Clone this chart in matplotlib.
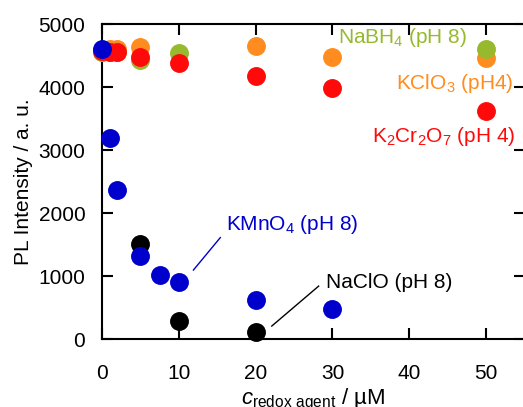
import matplotlib
matplotlib.use("Agg")
import matplotlib.pyplot as plt

plt.rcParams['font.family'] = ['Liberation Sans', 'DejaVu Sans']
plt.rcParams['mathtext.fontset'] = 'custom'
plt.rcParams['mathtext.rm'] = 'Liberation Sans'
plt.rcParams['mathtext.it'] = 'Liberation Sans:italic'
plt.rcParams['mathtext.bf'] = 'Liberation Sans:bold'

# data (concentration in uM, PL intensity in a.u.)
kclo3_x = [0, 1, 2, 5, 20, 30, 50]
kclo3_y = [4560, 4600, 4600, 4630, 4650, 4480, 4460]

nabh4_x = [0, 1, 2, 5, 10, 50]
nabh4_y = [4560, 4560, 4560, 4430, 4540, 4600]

k2cr2o7_x = [0, 1, 2, 5, 10, 20, 30, 50]
k2cr2o7_y = [4570, 4560, 4550, 4480, 4380, 4175, 3985, 3620]

naclo_x = [5, 10, 20]
naclo_y = [1505, 285, 110]

kmno4_x = [0, 1, 2, 5, 7.5, 10, 20, 30]
kmno4_y = [4610, 3190, 2365, 1315, 1020, 905, 620, 475]

green = '#96B92E'
orange = '#FF8C1E'
red = '#FF0A0A'
blue = '#0000CC'

fig = plt.figure(figsize=(5.23, 4.07), dpi=100)
# right spine sits just past the image edge, like in the reference
ax = fig.add_axes([0.195, 0.167, 0.808, 0.774])

ms = 185
ax.scatter(kclo3_x, kclo3_y, s=ms, color=orange, lw=0, zorder=3, clip_on=False)
ax.scatter(nabh4_x, nabh4_y, s=ms, color=green, lw=0, zorder=3, clip_on=False)
ax.scatter(k2cr2o7_x, k2cr2o7_y, s=ms, color=red, lw=0, zorder=3, clip_on=False)
ax.scatter(naclo_x, naclo_y, s=ms, color='black', lw=0, zorder=3, clip_on=False)
ax.scatter(kmno4_x, kmno4_y, s=ms, color=blue, lw=0, zorder=3, clip_on=False)

fs = 15
ax.text(30.7, 4780, 'NaBH$_4$ (pH 8)', color=green, fontsize=fs, va='center')
ax.text(53.6, 4060, 'KClO$_3$ (pH4)', color=orange, fontsize=fs, va='center', ha='right')
ax.text(53.8, 3220, 'K$_2$Cr$_2$O$_7$ (pH 4)', color=red, fontsize=fs, va='center', ha='right')
ax.text(16.2, 1810, 'KMnO$_4$ (pH 8)', color=blue, fontsize=fs, va='center')
ax.text(29.1, 900, 'NaClO (pH 8)', color='black', fontsize=fs, va='center')
ax.plot([11.9, 15.4], [1095, 1610], color=blue, lw=1)
ax.plot([22.1, 28.2], [206, 840], color='black', lw=1)

ax.set_xlim(0, 55)
ax.set_ylim(0, 5000)
ax.set_xticks([0, 10, 20, 30, 40, 50])
ax.set_yticks([0, 1000, 2000, 3000, 4000, 5000])
ax.tick_params(direction='in', length=8, width=1.5, labelsize=fs,
               top=True, right=True)
ax.tick_params(axis='x', pad=18)
ax.tick_params(axis='y', pad=12)
for sp in ax.spines.values():
    sp.set_linewidth(1.5)

ax.set_xlabel(r'$c_\mathrm{redox\ agent}$ / µM', fontsize=16, labelpad=3)
ax.set_ylabel('PL Intensity / a. u.', fontsize=fs, labelpad=4)

fig.savefig('out.png', dpi=100)
